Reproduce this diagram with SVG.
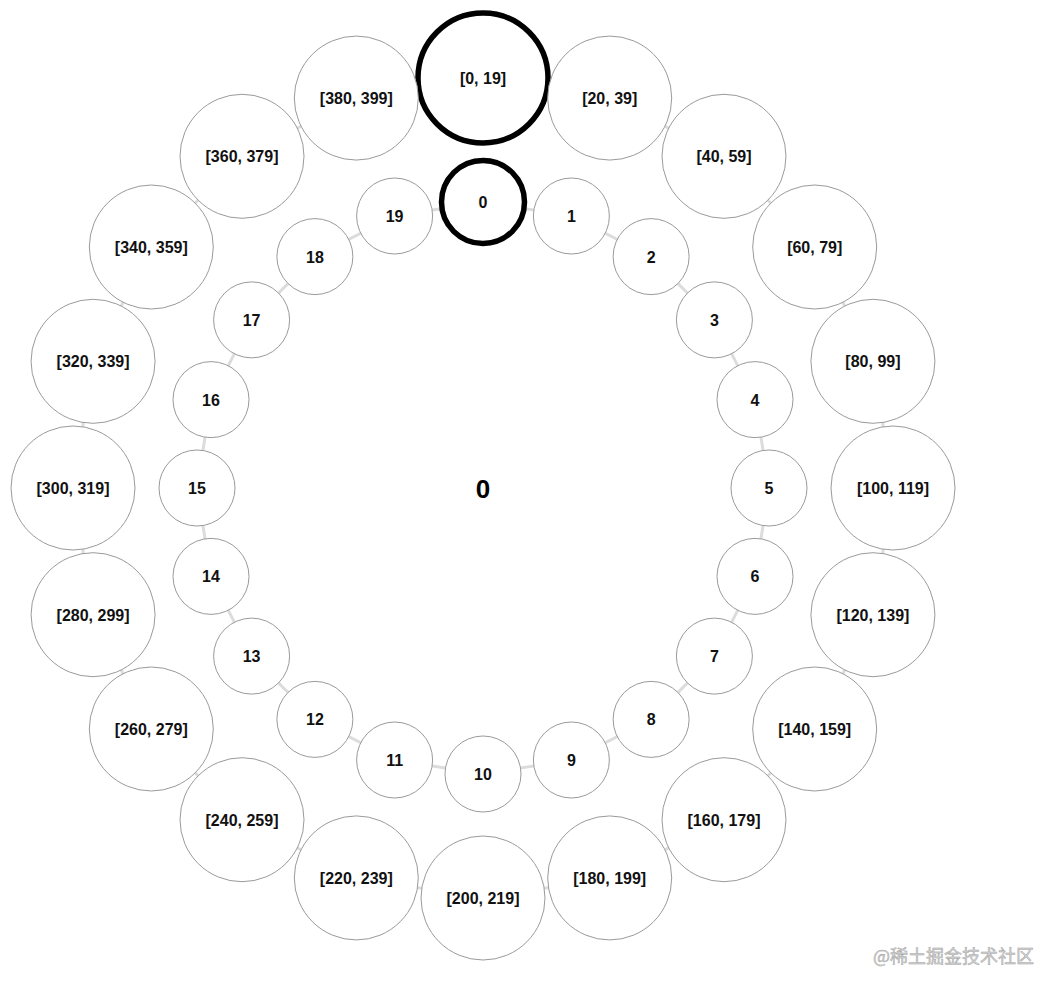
<svg xmlns="http://www.w3.org/2000/svg" width="1060" height="993" viewBox="0 0 1060 993">
<style>
.bg{fill:#fff}
.link{stroke:#dcdcdc;stroke-width:3;fill:none}
.node circle{fill:#fff;stroke:#9a9a9a;stroke-width:1}
.node.hl circle{stroke:#000;stroke-width:5.5}
.node text{font-family:"Liberation Sans",Arial,sans-serif;font-weight:bold;font-size:16px;fill:#111;text-anchor:middle}
.center{font-family:"Liberation Sans",Arial,sans-serif;font-weight:bold;font-size:26px;fill:#000;text-anchor:middle}
.wm{font-family:"Noto Sans CJK SC","Liberation Sans",sans-serif;font-size:18px;fill:#d4d4d4;stroke:#a0a0a0;stroke-width:0.45}
</style>
<rect class="bg" x="0" y="0" width="1060" height="993"/>
<g id="connectors">
<polygon class="link" points="483,202 571.38,216 651.11,256.62 714.38,319.89 755,399.62 769,488 755,576.38 714.38,656.11 651.11,719.38 571.38,760 483,774 394.62,760 314.89,719.38 251.62,656.11 211,576.38 197,488 211,399.62 251.62,319.89 314.89,256.62 394.62,216"/>
<polygon class="link" points="483,78 609.7,98.07 723.99,156.3 814.7,247.01 872.93,361.3 893,488 872.93,614.7 814.7,728.99 723.99,819.7 609.7,877.93 483,898 356.3,877.93 242.01,819.7 151.3,728.99 93.07,614.7 73,488 93.07,361.3 151.3,247.01 242.01,156.3 356.3,98.07"/>
</g>
<g id="outer-nodes">
<g id="range-0" class="node hl"><circle cx="483" cy="78" r="65"/><text x="483" y="84">[0, 19]</text></g>
<g id="range-1" class="node"><circle cx="609.7" cy="98.07" r="62"/><text x="609.7" y="104">[20, 39]</text></g>
<g id="range-2" class="node"><circle cx="723.99" cy="156.3" r="62"/><text x="723.99" y="162">[40, 59]</text></g>
<g id="range-3" class="node"><circle cx="814.7" cy="247.01" r="62"/><text x="814.7" y="253">[60, 79]</text></g>
<g id="range-4" class="node"><circle cx="872.93" cy="361.3" r="62"/><text x="872.93" y="367">[80, 99]</text></g>
<g id="range-5" class="node"><circle cx="893" cy="488" r="62"/><text x="893" y="494">[100, 119]</text></g>
<g id="range-6" class="node"><circle cx="872.93" cy="614.7" r="62"/><text x="872.93" y="621">[120, 139]</text></g>
<g id="range-7" class="node"><circle cx="814.7" cy="728.99" r="62"/><text x="814.7" y="735">[140, 159]</text></g>
<g id="range-8" class="node"><circle cx="723.99" cy="819.7" r="62"/><text x="723.99" y="826">[160, 179]</text></g>
<g id="range-9" class="node"><circle cx="609.7" cy="877.93" r="62"/><text x="609.7" y="884">[180, 199]</text></g>
<g id="range-10" class="node"><circle cx="483" cy="898" r="62"/><text x="483" y="904">[200, 219]</text></g>
<g id="range-11" class="node"><circle cx="356.3" cy="877.93" r="62"/><text x="356.3" y="884">[220, 239]</text></g>
<g id="range-12" class="node"><circle cx="242.01" cy="819.7" r="62"/><text x="242.01" y="826">[240, 259]</text></g>
<g id="range-13" class="node"><circle cx="151.3" cy="728.99" r="62"/><text x="151.3" y="735">[260, 279]</text></g>
<g id="range-14" class="node"><circle cx="93.07" cy="614.7" r="62"/><text x="93.07" y="621">[280, 299]</text></g>
<g id="range-15" class="node"><circle cx="73" cy="488" r="62"/><text x="73" y="494">[300, 319]</text></g>
<g id="range-16" class="node"><circle cx="93.07" cy="361.3" r="62"/><text x="93.07" y="367">[320, 339]</text></g>
<g id="range-17" class="node"><circle cx="151.3" cy="247.01" r="62"/><text x="151.3" y="253">[340, 359]</text></g>
<g id="range-18" class="node"><circle cx="242.01" cy="156.3" r="62"/><text x="242.01" y="162">[360, 379]</text></g>
<g id="range-19" class="node"><circle cx="356.3" cy="98.07" r="62"/><text x="356.3" y="104">[380, 399]</text></g>
</g>
<g id="inner-nodes">
<g id="n0" class="node hl"><circle cx="483" cy="202" r="41.5"/><text x="483" y="208">0</text></g>
<g id="n1" class="node"><circle cx="571.38" cy="216" r="38"/><text x="571.38" y="222">1</text></g>
<g id="n2" class="node"><circle cx="651.11" cy="256.62" r="38"/><text x="651.11" y="262.6">2</text></g>
<g id="n3" class="node"><circle cx="714.38" cy="319.89" r="38"/><text x="714.38" y="325.9">3</text></g>
<g id="n4" class="node"><circle cx="755" cy="399.62" r="38"/><text x="755" y="405.6">4</text></g>
<g id="n5" class="node"><circle cx="769" cy="488" r="38"/><text x="769" y="494">5</text></g>
<g id="n6" class="node"><circle cx="755" cy="576.38" r="38"/><text x="755" y="582.4">6</text></g>
<g id="n7" class="node"><circle cx="714.38" cy="656.11" r="38"/><text x="714.38" y="662.1">7</text></g>
<g id="n8" class="node"><circle cx="651.11" cy="719.38" r="38"/><text x="651.11" y="725.4">8</text></g>
<g id="n9" class="node"><circle cx="571.38" cy="760" r="38"/><text x="571.38" y="766">9</text></g>
<g id="n10" class="node"><circle cx="483" cy="774" r="38"/><text x="483" y="780">10</text></g>
<g id="n11" class="node"><circle cx="394.62" cy="760" r="38"/><text x="394.62" y="766">11</text></g>
<g id="n12" class="node"><circle cx="314.89" cy="719.38" r="38"/><text x="314.89" y="725.4">12</text></g>
<g id="n13" class="node"><circle cx="251.62" cy="656.11" r="38"/><text x="251.62" y="662.1">13</text></g>
<g id="n14" class="node"><circle cx="211" cy="576.38" r="38"/><text x="211" y="582.4">14</text></g>
<g id="n15" class="node"><circle cx="197" cy="488" r="38"/><text x="197" y="494">15</text></g>
<g id="n16" class="node"><circle cx="211" cy="399.62" r="38"/><text x="211" y="405.6">16</text></g>
<g id="n17" class="node"><circle cx="251.62" cy="319.89" r="38"/><text x="251.62" y="325.9">17</text></g>
<g id="n18" class="node"><circle cx="314.89" cy="256.62" r="38"/><text x="314.89" y="262.6">18</text></g>
<g id="n19" class="node"><circle cx="394.62" cy="216" r="38"/><text x="394.62" y="222">19</text></g>
</g>
<g id="center-label"><text class="center" x="483" y="498">0</text></g>
<g id="watermark"><text class="wm" x="873" y="963">@稀土掘金技术社区</text></g>
</svg>
